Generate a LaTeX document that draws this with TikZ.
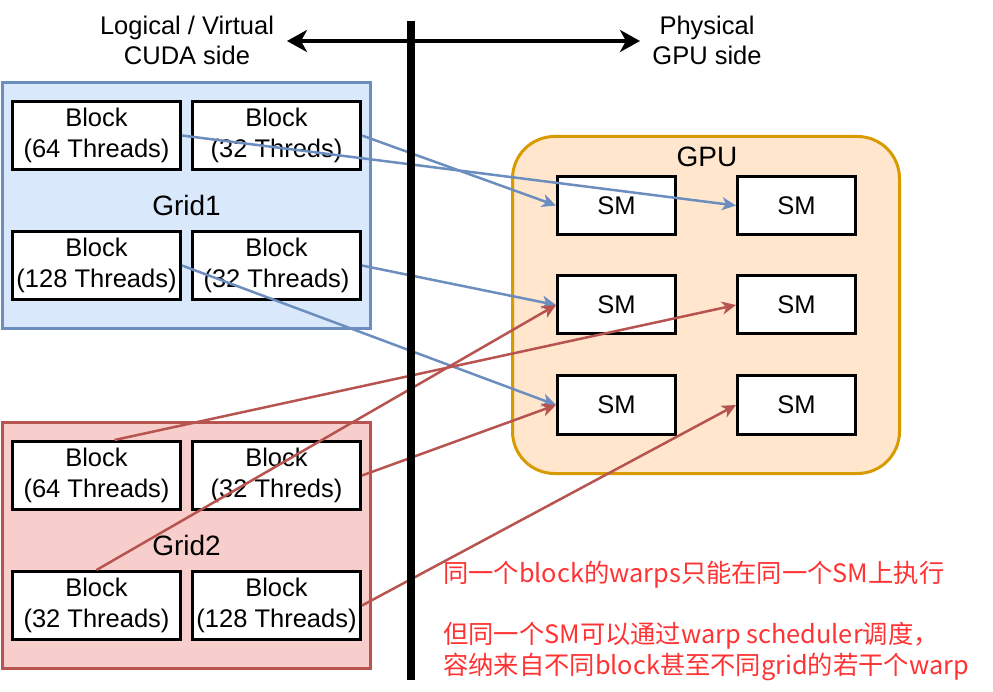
\documentclass[tikz,border=0pt]{standalone}
\usepackage{fontspec}
\setmainfont{Liberation Sans}
\newfontfamily\cjk{Noto Sans CJK SC}
\usetikzlibrary{arrows.meta}
\definecolor{blueline}{HTML}{6C8EBF}
\definecolor{bluefill}{HTML}{DAE8FC}
\definecolor{redline}{HTML}{B85450}
\definecolor{redfill}{HTML}{F8CECC}
\definecolor{gpuline}{HTML}{D79B00}
\definecolor{gpufill}{HTML}{FFE6CC}
\definecolor{notered}{HTML}{FF3333}
\tikzset{
  gridbox/.style={draw, line width=3pt, minimum width=368pt, minimum height=246pt,
    inner sep=0pt, font=\fontsize{28}{32}\selectfont},
  block/.style={draw, line width=3pt, fill=white, minimum width=168pt, minimum height=68pt,
    inner sep=0pt, align=center, font=\fontsize{25.5}{31}\selectfont},
  sm/.style={draw, line width=3pt, fill=white, minimum width=118pt, minimum height=58pt,
    inner sep=0pt, font=\fontsize{25.5}{31}\selectfont},
  link/.style={line width=2.5pt, -{Stealth[length=14pt,width=13pt,inset=4pt]}},
  side/.style={align=center, inner sep=0pt, font=\fontsize{25.5}{30}\selectfont},
  note/.style={anchor=west, align=left, inner sep=0pt, text=notered,
    font=\cjk\fontsize{25.3}{31}\selectfont}
}
\begin{document}
\begin{tikzpicture}[x=1pt,y=-1pt]
  \useasboundingbox (0,0) rectangle (993,692);
  \draw
    (187,40) node[side] (cuda){Logical / Virtual\\CUDA side}
    (707,40) node[side] (phys){Physical\\GPU side};
  \coordinate (cudaend) at (287,41);
  \coordinate (physend) at (640,41);
  \draw[line width=4pt, {Stealth[length=20pt,width=22pt,inset=6pt]}-{Stealth[length=20pt,width=22pt,inset=6pt]}]
    (cudaend) -- (physend);
  \draw
    (186.5,205.5) node[gridbox, fill=bluefill, draw=blueline] (grid1){Grid1}
    (186.5,545.5) node[gridbox, fill=redfill, draw=redline] (grid2){Grid2}
    (706,305) node[draw=gpuline, fill=gpufill, line width=3pt, rounded corners=42pt,
      minimum width=387pt, minimum height=337pt] (gpu){};
  \node[font=\fontsize{28}{32}\selectfont] (gpulabel) at (707,157) {GPU};
  \draw
    (96.5,135.5) node[block] (b1){Block\\(64 Threads)}
    (276.5,135.5) node[block] (b2){Block\\(32 Threds)}
    (96.5,265.5) node[block] (b3){Block\\(128 Threads)}
    (276.5,265.5) node[block] (b4){Block\\(32 Threads)}
    (96.5,475.5) node[block] (b5){Block\\(64 Threads)}
    (276.5,475.5) node[block] (b6){Block\\(32 Threds)}
    (96.5,605.5) node[block] (b7){Block\\(32 Threads)}
    (276.5,605.5) node[block] (b8){Block\\(128 Threads)};
  \draw
    (616.5,205.5) node[sm] (sm1){SM}
    (796.5,205.5) node[sm] (sm2){SM}
    (616.5,305) node[sm] (sm3){SM}
    (796.5,305) node[sm] (sm4){SM}
    (616.5,405) node[sm] (sm5){SM}
    (796.5,405) node[sm] (sm6){SM};
  \begin{scope}[link, blueline]
    \draw (b1.east) to (sm2.west);
    \draw (b2.east) to (sm1.west);
    \draw (b3.east) to (sm5.west);
    \draw (b4.east) to (sm3.west);
  \end{scope}
  \begin{scope}[link, redline]
    \draw ([xshift=18pt]b5.north) to (sm4.west);
    \draw (b6.east) to (sm5.west);
    \draw (b7.north) to (sm3.west);
    \draw (b8.east) to (sm6.west);
  \end{scope}
  \coordinate (bartop) at (411,21);
  \coordinate (barbottom) at (411,680);
  \draw[line width=8pt] (bartop) -- (barbottom);
  \node[note] (note1) at (443,575) {同一个block的warps只能在同一个SM上执行};
  \node[note] (note2) at (443,651.5) {但同一个SM可以通过warp scheduler调度，\\容纳来自不同block甚至不同grid的若干个warp};
\end{tikzpicture}
\end{document}
